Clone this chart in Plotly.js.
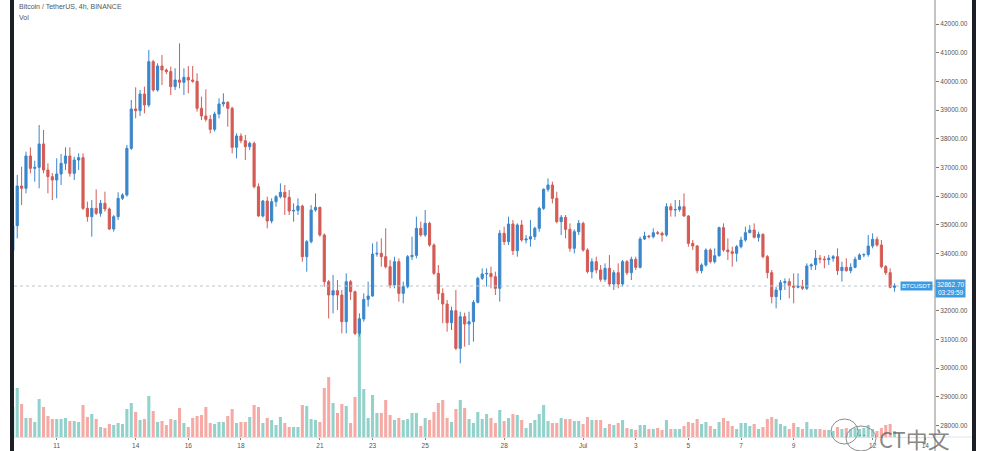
<!DOCTYPE html>
<html>
<head>
<meta charset="utf-8">
<script src="https://cdn.plot.ly/plotly-3.0.1.min.js"></script>
<style>
  html, body { margin: 0; padding: 0; background: #ffffff; }
  #chart { width: 985px; height: 451px; }
</style>
</head>
<body>
<div id="chart"></div>
<script>
// BTC/USDT 4h candles, first candle 2021-06-09 08:00, step 4 hours
const firstCandle = Date.UTC(2021, 5, 9, 8, 0);
const stepHours = 4;

const open = [34100,34966,36350,36268,37396,36966,37000,37815,36908,36675,36560,36768,37140,37396,36791,37256,37338,35571,35280,35571,
35396,35745,35547,34850,35280,35919,36036,37664,39035,38977,39559,39175,40686,39698,40535,40396,40340,39814,40047,39966,
40140,40047,40000,39059,38791,38675,38326,38861,39210,39270,39059,37698,38094,37931,37721,37837,36326,35303,35826,35128,
35803,35977,36128,35954,35477,35500,35652,33884,34408,35512,35605,34640,33012,32547,32698,32547,31617,33012,32663,31210,
31710,32396,32512,33977,34000,33884,33536,32896,33710,32605,32838,33884,33930,34873,34640,35047,34291,33303,32605,32233,
31582,32001,30687,31791,31535,31617,32291,33129,33280,33300,33186,32780,34698,34407,35024,34093,34989,34466,34500,34582,
34873,35570,36233,36384,35919,35105,35256,34838,34175,34756,35047,34117,33361,33710,33419,33094,33477,32931,33326,32931,
33710,33326,33791,33512,34500,34605,34582,34721,34700,34640,35628,35512,35530,35628,35303,34349,34256,33396,33594,34117,
33710,33919,34896,34117,34059,34000,34233,34466,34722,34815,34559,34664,33885,33327,32490,32722,32978,33013,32862,32820,
32850,32780,33559,33600,33827,33800,33780,33827,33885,33397,33513,33397,33513,33792,33943,33960,34257,34489,34292,33536,
33327,32815];
const high = [35200,36733,37024,37547,37698,37233,38477,38303,37140,36800,37315,37466,37698,37698,37373,37489,37489,35803,35861,36233,
35861,36152,35600,35338,36129,36094,37780,39349,39791,39698,39814,41093,40750,40628,40919,40450,40512,40454,41326,40454,
40535,40535,40279,39466,39721,38826,38942,39407,39582,39300,39117,38187,38187,38129,37896,37896,36442,35861,35977,35919,
36035,36442,36384,36210,35745,35919,35700,34466,35686,36093,35628,34698,33071,33245,33071,32722,33303,33071,32700,31908,
32605,33012,34349,34408,34524,34873,33768,33884,33826,33012,33943,34582,35280,35105,35512,35105,34349,33594,32780,32373,
32140,32722,31966,31931,31966,32373,33187,33477,33477,33535,33361,34814,34931,35280,35163,35047,35163,34640,35163,34931,
35628,36268,36617,36500,36151,35338,35338,35047,34838,35163,35105,34175,33826,33884,33593,33651,33942,33419,33651,33768,
33768,33884,33884,34582,34756,34640,34873,34780,34756,35745,35745,35861,35861,36093,35338,34466,34291,33651,34175,34175,
34175,34931,35047,34524,34233,34292,34582,34931,34989,35047,34757,34699,33943,33420,32838,33071,33129,33129,33303,33303,
33071,33652,33652,34117,33943,33908,33943,33943,34175,33710,33827,33652,33885,34001,34001,34641,34699,34582,34466,33594,
33478,32955];
const low = [33900,34524,35687,36094,36791,36501,36268,36791,36094,35861,35920,36384,36908,36675,36559,36908,35512,35105,34582,35338,
35280,35454,34815,34757,35164,35861,35977,37605,38710,38791,38884,39100,39640,39640,39873,40250,39524,39698,39756,39524,
39582,39950,38942,38652,38594,38187,38250,38710,39117,38419,37489,37315,37838,37256,37605,36268,35280,35250,34873,35047,
35628,35919,35338,35338,35105,35338,33710,33361,34349,35454,34582,32838,31733,31907,32024,31210,31210,32373,31152,31100,
31617,32140,32489,33884,33536,33478,32780,32780,32315,32257,32780,33768,33826,34582,34582,34233,33245,32373,31559,31268,
31326,30629,30164,30745,30803,30920,32257,33071,32838,32780,32547,32315,34291,34291,33942,33884,34407,34349,34233,34466,
34756,35512,36151,35745,35047,34640,34524,34058,34000,34640,34058,33303,33128,33303,33012,33012,32838,32721,32780,32838,
33245,33070,33419,33477,34466,34524,34524,34650,34407,34582,35280,35280,35454,35280,34233,34117,33303,33303,33535,33651,
33651,33884,34058,33769,33536,33710,34175,34408,34699,34524,34408,33827,33129,32257,32083,32373,32722,32431,32257,32780,
32722,32722,33420,33420,33652,33478,33594,33710,33245,33013,33362,33303,33478,33769,33862,33885,34175,34233,33478,33245,
32780,32664];
const close = [34966,36350,36268,37396,36966,37000,37815,36908,36675,36560,36768,37140,37396,36791,37256,37338,35571,35280,35571,35396,
35745,35547,34850,35280,35919,36036,37664,39035,38977,39559,39175,40686,39698,40535,40396,40340,39814,40047,39966,40140,
40047,40000,39059,38791,38675,38326,38861,39210,39270,39059,37698,38094,37931,37721,37837,36326,35303,35826,35128,35803,
35977,36128,35954,35477,35500,35652,33884,34408,35512,35605,34640,33012,32547,32698,32547,31617,33012,32663,31210,31710,
32396,32512,33977,34000,33884,33536,32896,33710,32605,32838,33884,33930,34873,34640,35047,34291,33303,32605,32233,31582,
32001,30687,31791,31535,31617,32291,33129,33280,33300,33186,32780,34698,34407,35024,34093,34989,34466,34500,34582,34873,
35570,36233,36384,35919,35105,35256,34838,34175,34756,35047,34117,33361,33710,33419,33094,33477,32931,33326,32931,33710,
33326,33791,33512,34500,34605,34582,34721,34700,34640,35628,35512,35530,35628,35303,34349,34256,33396,33594,34117,33710,
33919,34896,34117,34059,34000,34233,34466,34722,34815,34559,34664,33885,33327,32490,32722,32978,33013,32862,32820,32850,
32780,33559,33600,33827,33800,33780,33827,33885,33397,33513,33397,33513,33792,33943,33960,34257,34489,34292,33536,33327,
32815,32862.70];
const volume = [30,49,33,19,19,15,38,30,21,18,18,18,19,16,16,15,32,20,23,18,
10,9,13,12,14,13,28,34,25,17,18,41,26,15,16,12,18,17,29,14,
10,19,21,22,30,14,13,15,15,21,28,14,15,15,20,32,30,14,19,17,
12,20,14,10,10,10,32,31,18,17,15,49,60,34,24,33,31,14,40,119,
48,19,42,24,24,37,22,17,19,17,18,24,24,11,19,17,25,34,37,19,
15,28,37,29,18,14,25,18,23,19,14,27,16,19,23,22,17,9,14,17,
23,32,16,14,14,19,18,18,16,16,13,20,17,17,17,9,13,12,14,17,
9,8,7,12,12,8,8,9,7,17,8,8,8,11,15,14,18,13,15,11,
8,15,19,16,11,8,14,14,11,13,8,10,18,20,18,13,11,8,14,10,
8,15,8,8,8,7,7,6,10,8,9,8,9,8,9,12,8,6,9,12,
13,6];

const dayTickDates = ['2021-06-11','2021-06-14','2021-06-16','2021-06-18','2021-06-21','2021-06-23','2021-06-25','2021-06-28',
  '2021-07-01','2021-07-03','2021-07-05','2021-07-07','2021-07-09','2021-07-12','2021-07-14'];
const dayTickLabels = ['11','14','16','18','21','23','25','28','Jul','3','5','7','9','12','14'];
// 33000.00 sits under the last-price label in the reference, so it is not listed
const priceTicks = [28000,29000,30000,31000,32000,34000,35000,36000,37000,38000,39000,40000,41000,42000];

const symbolName = 'BTCUSDT';
const headerText = 'Bitcoin / TetherUS, 4h, BINANCE';
const countdown = '03:29:59';

function fmt(ms) {
  return new Date(ms).toISOString().slice(0, 16).replace('T', ' ');
}
const times = open.map((_, i) => fmt(firstCandle + i * stepHours * 3600e3));

const upColor = '#3a86cc';
const downColor = '#d45b55';
const volUp = '#93d2cb';
const volDown = '#f5aaa6';

const volColors = open.map((o, i) => close[i] >= o ? volUp : volDown);
const last = close[close.length - 1];

const volTrace = {
  type: 'bar', x: times, y: volume, yaxis: 'y', xaxis: 'x',
  marker: { color: volColors, line: { width: 0 } },
  hoverinfo: 'skip', showlegend: false
};
const candleTrace = {
  type: 'candlestick', x: times, open: open, high: high, low: low, close: close,
  xaxis: 'x', yaxis: 'y2',
  increasing: { line: { color: upColor, width: 1 }, fillcolor: upColor },
  decreasing: { line: { color: downColor, width: 1 }, fillcolor: downColor },
  whiskerwidth: 0, showlegend: false, hoverinfo: 'skip'
};

const PX_W = 921, PX_H = 437, ML = 14;
const px = (x) => (x - ML) / PX_W;
const py = (y) => (PX_H - y) / PX_H;

const layout = {
  width: 985, height: 451,
  margin: { l: ML, r: 50, t: 0, b: 14 },
  paper_bgcolor: '#ffffff', plot_bgcolor: '#ffffff',
  bargap: 0.3,
  showlegend: false,
  font: { family: 'Liberation Sans, Arial, sans-serif', color: '#555' },
  xaxis: {
    type: 'date',
    range: ['2021-06-09 09:04', '2021-07-14 08:53'],
    rangeslider: { visible: false },
    tickvals: dayTickDates, ticktext: dayTickLabels,
    ticks: 'outside', ticklen: 2, tickcolor: '#888',
    tickfont: { size: 6.5, color: '#555' },
    showgrid: false, zeroline: false,
    showline: true, linecolor: '#e2e2e2', linewidth: 1,
    fixedrange: true
  },
  yaxis: {
    range: [0, 437], visible: false, showgrid: false, zeroline: false, fixedrange: true
  },
  yaxis2: {
    overlaying: 'y', side: 'right', anchor: 'x',
    range: [27595, 42837],
    tickvals: priceTicks, tickformat: '.2f',
    ticks: 'outside', ticklen: 3, tickcolor: '#777',
    tickfont: { size: 6.5, color: '#555' },
    showgrid: false, zeroline: false,
    showline: false, fixedrange: true
  },
  shapes: [
    { type: 'rect', xref: 'paper', yref: 'paper', x0: px(10), x1: px(14), y0: py(452), y1: py(-1), fillcolor: '#1c1f26', line: { width: 0 } },
    { type: 'rect', xref: 'paper', yref: 'paper', x0: px(972), x1: px(976), y0: py(452), y1: py(-1), fillcolor: '#1c1f26', line: { width: 0 } },
    { type: 'line', xref: 'paper', yref: 'paper', x0: 1, x1: 1, y0: py(452), y1: py(-1), line: { color: '#8a8a8a', width: 1 } },
    { type: 'line', xref: 'paper', yref: 'paper', x0: 1, x1: px(972), y0: 0, y1: 0, line: { color: '#e2e2e2', width: 1 } },
    { type: 'line', xref: 'paper', yref: 'y2', x0: 0, x1: 1, y0: last, y1: last, line: { color: '#b9c4cf', width: 1, dash: 'dot' } },
    { type: 'circle', xref: 'paper', yref: 'paper', x0: px(831), x1: px(858), y0: py(444), y1: py(419), line: { color: '#8c8c8c', width: 1 } },
    { type: 'circle', xref: 'paper', yref: 'paper', x0: px(846), x1: px(876), y0: py(451), y1: py(426), line: { color: '#8c8c8c', width: 1 } }
  ],
  annotations: [
    { xref: 'paper', yref: 'paper', x: px(17), y: py(7), xanchor: 'left', yanchor: 'middle', showarrow: false,
      text: headerText, font: { size: 7, color: '#555' } },
    { xref: 'paper', yref: 'paper', x: px(17), y: py(18), xanchor: 'left', yanchor: 'middle', showarrow: false,
      text: 'Vol', font: { size: 7, color: '#555' } },
    { xref: 'paper', yref: 'y2', x: 1, y: last, xanchor: 'right', yanchor: 'middle', xshift: -2, showarrow: false,
      text: symbolName, bgcolor: '#3d9be3', borderpad: 1, font: { size: 6, color: '#ffffff' } },
    { xref: 'paper', yref: 'y2', x: 1, y: last, xanchor: 'left', yanchor: 'middle', yshift: -3, showarrow: false,
      text: last.toFixed(2) + '<br>' + countdown, align: 'center', bgcolor: '#3d9be3', borderpad: 1,
      font: { size: 6.5, color: '#ffffff' } },
    { xref: 'paper', yref: 'paper', x: px(862), y: py(437), xanchor: 'center', yanchor: 'middle', showarrow: false,
      text: '˘ ˘', font: { size: 7, color: '#777' } },
    { xref: 'paper', yref: 'paper', x: px(914), y: py(438), xanchor: 'center', yanchor: 'middle', showarrow: false,
      text: 'CT中文', font: { size: 22, color: 'rgba(95,95,95,0.75)', family: 'Noto Sans CJK SC, sans-serif' } }
  ]
};

Plotly.newPlot('chart', [volTrace, candleTrace], layout, { staticPlot: true, displayModeBar: false });
</script>
</body>
</html>
